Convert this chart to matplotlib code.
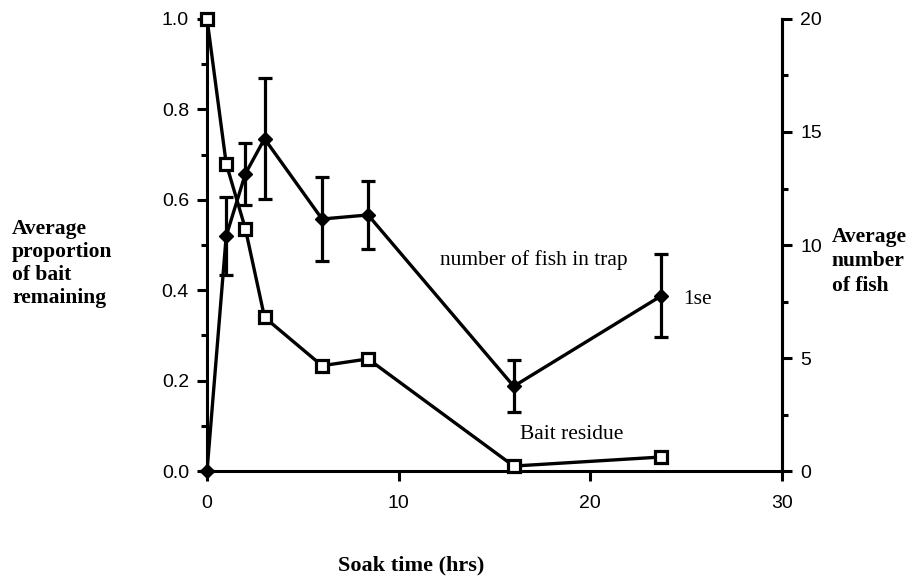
#!/usr/bin/env python3
"""Bait residue and fish count against soak time, on twin y axes."""

import matplotlib

matplotlib.use("Agg")
import matplotlib.pyplot as plt
from matplotlib.ticker import MultipleLocator

# soak times (hrs) for each trap haul
soak_hrs = [0, 1.0, 2.0, 3.0, 6.0, 8.4, 16.0, 23.7]
# average proportion of bait left in the trap
bait_left = [1.0, 0.68, 0.536, 0.34, 0.233, 0.248, 0.011, 0.031]
# average number of fish in the trap and its standard error
fish_mean = [0.0, 10.4, 13.15, 14.7, 11.15, 11.33, 3.75, 7.75]
fish_se = [0.0, 1.72, 1.36, 2.68, 1.85, 1.5, 1.16, 1.83]

x_ticks = [0, 10, 20, 30]
bait_ticks = [0.0, 0.2, 0.4, 0.6, 0.8, 1.0]
fish_ticks = [0, 5, 10, 15, 20]

SERIF = ["Liberation Serif", "DejaVu Serif"]
SANS = ["Liberation Sans", "DejaVu Sans"]
LW = 2.4

plt.rcParams["font.family"] = SANS

fig = plt.figure(figsize=(9.21, 5.86), dpi=100)
ax = fig.add_axes([0.2248, 0.1962, 0.6243, 0.7714])
ax2 = ax.twinx()

ax.plot(soak_hrs, bait_left, color="black", lw=LW, marker="s", ms=8,
        mfc="white", mec="black", mew=2.3, clip_on=False, zorder=3)
ax2.errorbar(soak_hrs, fish_mean, yerr=fish_se, color="black", lw=LW,
             marker="D", ms=7.5, mfc="black", mec="black",
             elinewidth=2.3, capsize=4.8, capthick=2.3, clip_on=False,
             zorder=4)

ax.set_xlim(0, 30)
ax.set_ylim(0, 1.0)
ax2.set_ylim(0, 20)

ax.set_xticks(x_ticks)
ax.set_yticks(bait_ticks)
ax.set_yticklabels([f"{v:.1f}" for v in bait_ticks])
ax.yaxis.set_minor_locator(MultipleLocator(0.1))
ax2.set_yticks(fish_ticks)
ax2.yaxis.set_minor_locator(MultipleLocator(2.5))

for a in (ax, ax2):
    a.spines["top"].set_visible(False)
    for s in a.spines.values():
        s.set_linewidth(2.2)
ax2.spines["left"].set_visible(False)
ax2.spines["bottom"].set_visible(False)

ax.tick_params(axis="both", which="major", length=7, width=2.2,
               labelsize=14, direction="out")
ax.tick_params(axis="x", pad=10)
ax.tick_params(axis="y", pad=6)
ax.tick_params(axis="y", which="minor", length=4, width=2.2)
ax2.tick_params(axis="y", which="major", length=7, width=2.2,
                labelsize=14, pad=6)
ax2.tick_params(axis="y", which="minor", length=4, width=2.2)

fig.text(0.013, 0.5495, "Average\nproportion\nof bait\nremaining",
         ha="left", va="center", fontsize=15.5, fontweight="bold",
         family=SERIF, linespacing=1.2)
fig.text(0.903, 0.5546, "Average\nnumber\nof fish", ha="left", va="center",
         fontsize=15.5, fontweight="bold", family=SERIF, linespacing=1.3)
fig.text(0.447, 0.035, "Soak time (hrs)", ha="center", va="center",
         fontsize=16, fontweight="bold", family=SERIF)

ax2.text(12.15, 9.35, "number of fish in trap", ha="left", va="center",
         fontsize=15.5, family=SERIF)
ax2.text(24.83, 7.6, "1se", ha="left", va="center", fontsize=15.5,
         family=SERIF)
ax.text(16.33, 0.08, "Bait residue", ha="left", va="center", fontsize=15.5,
        family=SERIF)

fig.savefig("out.png", dpi=100)
